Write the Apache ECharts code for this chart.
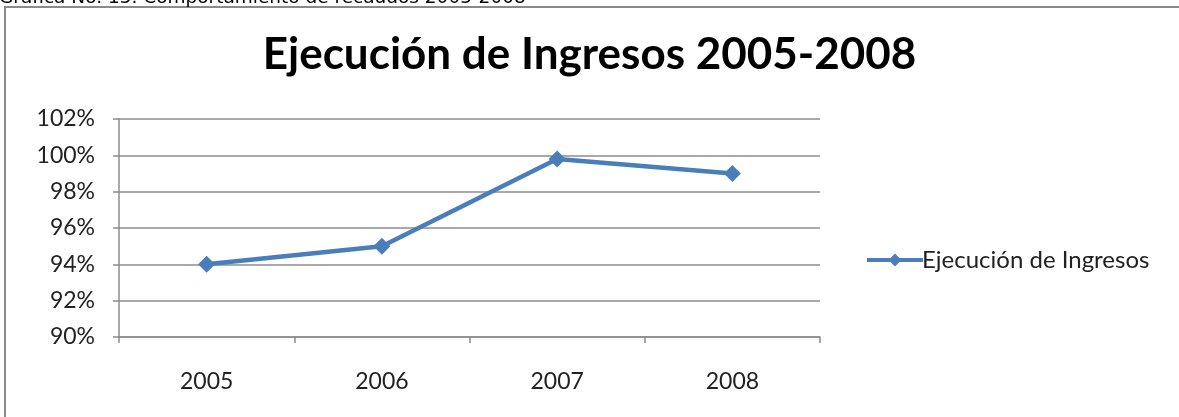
<!DOCTYPE html>
<html>
<head>
<meta charset="utf-8">
<script src="https://cdn.jsdelivr.net/npm/echarts@6/dist/echarts.min.js"></script>
<style>
  html, body { margin: 0; padding: 0; background: #fff; }
  #chart { width: 1179px; height: 417px; }
</style>
</head>
<body>
<div id="chart"></div>
<script>
// datos
const years = ['2005', '2006', '2007', '2008'];
const ejecucion = [94, 95, 99.8, 99];
const yMin = 90;
const yMax = 102;
const yStep = 2;

const chartDom = document.getElementById('chart');
const myChart = echarts.init(chartDom);

const option = {
  animation: false,
  backgroundColor: '#fff',
  title: {
    text: 'Ejecución de Ingresos 2005-2008',
    left: 'center',
    top: 28,
    textStyle: {
      fontFamily: 'Lato',
      fontWeight: 'bold',
      fontSize: 44,
      color: '#000'
    }
  },
  grid: {
    left: 119,
    right: 359,
    top: 119,
    bottom: 80
  },
  legend: {
    data: ['Ejecución de Ingresos'],
    left: 860,
    top: 243,
    itemWidth: 56,
    itemHeight: 16,
    itemGap: 4,
    lineStyle: { width: 4 },
    textStyle: {
      fontFamily: 'Lato',
      fontSize: 24,
      color: '#222',
      padding: [0, 0, 0, -6]
    }
  },
  xAxis: {
    type: 'category',
    data: years,
    boundaryGap: true,
    axisLine: { lineStyle: { color: '#8c8c8c', width: 1.5 } },
    axisTick: { show: true, length: 6, inside: false, lineStyle: { color: '#8c8c8c', width: 1.5 } },
    axisLabel: {
      margin: 33,
      fontFamily: 'Lato',
      fontSize: 23,
      color: '#222'
    }
  },
  yAxis: {
    type: 'value',
    min: yMin,
    max: yMax,
    interval: yStep,
    axisLine: { show: true, lineStyle: { color: '#8c8c8c', width: 1.5 } },
    axisTick: { show: true, length: 6, lineStyle: { color: '#8c8c8c', width: 1.5 } },
    splitLine: { show: true, lineStyle: { color: '#8c8c8c', width: 1.5 } },
    axisLabel: {
      margin: 24,
      formatter: '{value}%',
      fontFamily: 'Lato',
      fontSize: 23,
      color: '#222'
    }
  },
  series: [
    {
      name: 'Ejecución de Ingresos',
      type: 'line',
      data: ejecucion,
      symbol: 'diamond',
      symbolSize: 17,
      itemStyle: { color: '#4a7ebb' },
      lineStyle: { color: '#4a7ebb', width: 4.5 }
    }
  ],
  graphic: [
    {
      type: 'polyline',
      shape: { points: [[5, 430], [5, 7], [1190, 7]] },
      style: { fill: 'none', stroke: '#8a8a8a', lineWidth: 2 },
      silent: true
    },
    {
      type: 'text',
      left: -1,
      top: -11,
      style: {
        text: 'Gráfica No. 15. Comportamiento de recaudos 2005-2008',
        font: '18.5px "DejaVu Sans"',
        fill: '#000'
      },
      silent: true
    }
  ]
};

option && myChart.setOption(option);
</script>
</body>
</html>
